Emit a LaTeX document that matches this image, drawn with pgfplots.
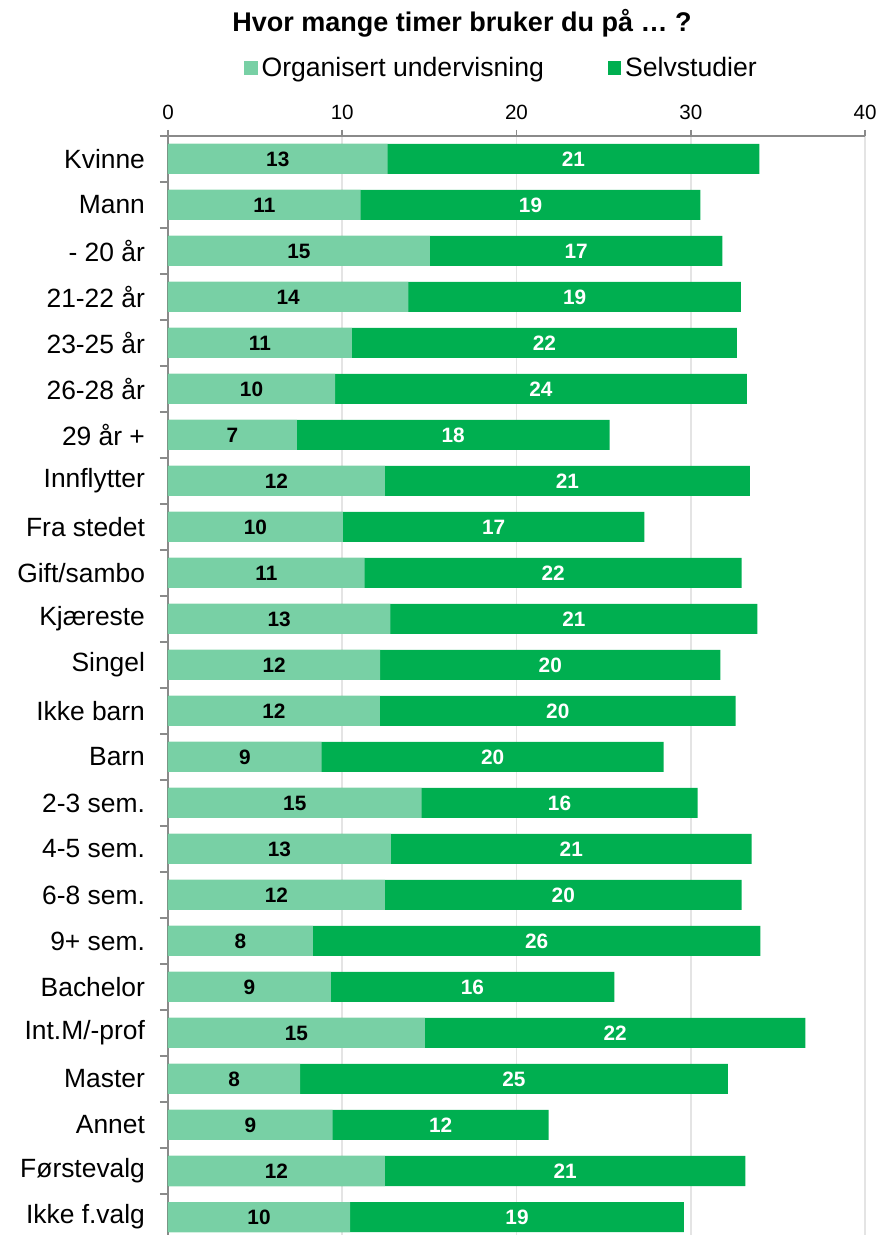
\documentclass[border=0pt]{standalone}
\usepackage{fontspec}
\setmainfont{Liberation Sans}
\usepackage{pgfplots}
\usepackage{pgfplotstable}
\pgfplotsset{compat=1.18}
\definecolor{lightg}{HTML}{78D0A5}
\definecolor{darkg}{HTML}{00AF50}
\definecolor{gridc}{HTML}{E4E4E4}
\definecolor{axc}{HTML}{8A8A8A}

\pgfplotstableread{
y org self
23 12.60 21.34
22 11.06 19.49
21 15.03 16.79
20 13.79 19.09
19 10.55 22.10
18 9.59 23.63
17 7.39 17.95
16 12.45 20.94
15 10.03 17.31
14 11.29 21.63
13 12.76 21.06
12 12.18 19.52
11 12.16 20.42
10 8.82 19.63
9 14.55 15.84
8 12.79 20.71
7 12.45 20.47
6 8.32 25.68
5 9.34 16.27
4 14.74 21.84
3 7.58 24.55
2 9.45 12.39
1 12.45 20.68
0 10.45 19.16
}\data

\begin{document}
\begin{tikzpicture}
\useasboundingbox (-84pt,2.5pt) rectangle (355.5pt,620pt);
\begin{axis}[
  at={(0,0)}, anchor=south west,
  scale only axis, width=348.5pt, height=552pt,
  xmin=0, xmax=40, ymin=-0.5, ymax=23.5,
  axis x line*=top, axis y line*=left,
  axis line style={draw=axc, line width=0.8pt, -},
  xtick={0,10,20,30,40},
  xmajorgrids, grid style={draw=gridc, line width=0.8pt},
  tick align=outside,
  major tick length=3pt,
  x tick style={draw=axc, line width=0.8pt},
  xticklabel style={font=\fontsize{10.3}{12}\selectfont, yshift=1.5pt},
  /pgf/number format/assume math mode=true,
  ytick={0,...,23},
  yticklabels={Ikke f.valg, Førstevalg, Annet, Master, Int.M/-prof, Bachelor, 9+ sem., 6-8 sem., 4-5 sem., 2-3 sem., Barn, Ikke barn, Singel, Kjæreste, Gift/sambo, Fra stedet, Innflytter, 29 år +, 26-28 år, 23-25 år, 21-22 år, - 20 år, Mann, Kvinne},
  major y tick style={draw=none},
  minor ytick={-0.5,0.5,...,23.5},
  minor y tick style={draw=axc, line width=0.8pt},
  minor tick length=4pt,
  yticklabel style={font=\fontsize{13.2}{15}\selectfont, xshift=-5pt},
  title={\bfseries Hvor mange timer bruker du på … ?},
  title style={font=\fontsize{13.5}{16}\selectfont, at={(0.4218,1.0915)}, anchor=center},
  legend columns=2,
  legend style={draw=none, fill=none, at={(0.480,1.0616)}, anchor=center,
    font=\fontsize{13.3}{15}\selectfont,
    /tikz/every even column/.append style={column sep=30pt},
    inner sep=0pt},
  legend image code/.code={\fill (0pt,-3.3pt) rectangle (6.6pt,3.3pt);},
]
\addplot[xbar, bar width=15pt, bar shift=0pt, fill=darkg, draw=none, forget plot]
  table[x expr=\thisrow{org}+\thisrow{self}, y=y] {\data};
\addplot[xbar, bar width=15pt, bar shift=0pt, fill=lightg, draw=none, forget plot]
  table[x=org, y=y] {\data};
\addplot[draw=none, mark=none, forget plot, point meta=\thisrow{org},
  nodes near coords={\pgfmathprintnumber[fixed,precision=0]{\pgfplotspointmeta}},
  nodes near coords style={anchor=center, text=black, font=\bfseries\fontsize{10.4}{12}\selectfont}]
  table[x expr=\thisrow{org}/2, y=y] {\data};
\addplot[draw=none, mark=none, forget plot, point meta=\thisrow{self},
  nodes near coords={\pgfmathprintnumber[fixed,precision=0]{\pgfplotspointmeta}},
  nodes near coords style={anchor=center, text=white, font=\bfseries\fontsize{10.4}{12}\selectfont}]
  table[x expr=\thisrow{org}+\thisrow{self}/2, y=y] {\data};
\addlegendimage{fill=lightg, draw=none}
\addlegendentry{Organisert undervisning}
\addlegendimage{fill=darkg, draw=none}
\addlegendentry{Selvstudier}
\end{axis}
\end{tikzpicture}
\end{document}
